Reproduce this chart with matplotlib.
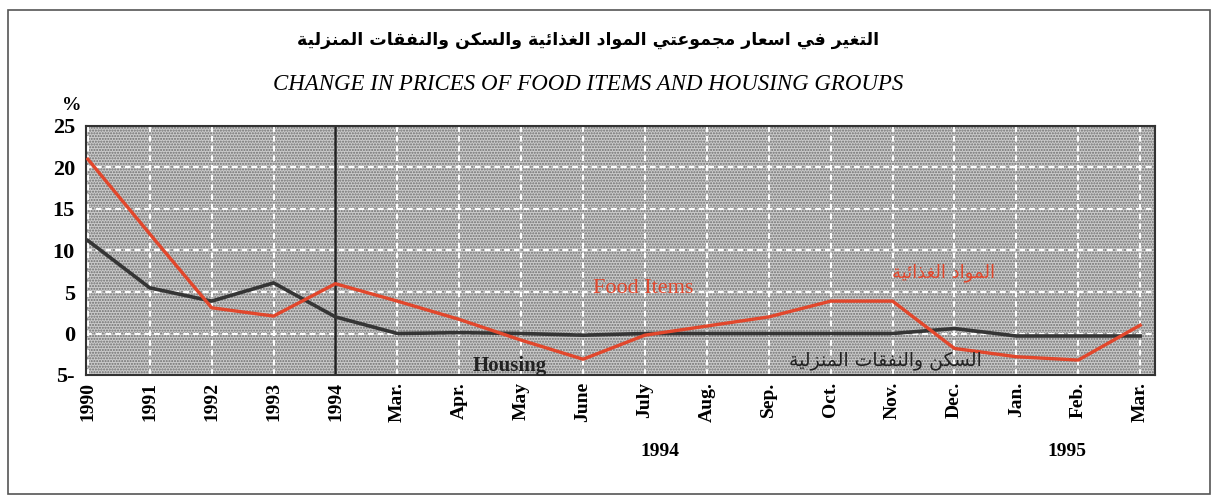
import matplotlib
matplotlib.use("Agg")
import matplotlib.pyplot as plt
from matplotlib.patches import Rectangle

# ---------------- data ----------------
categories = ["1990", "1991", "1992", "1993", "1994", "Mar.", "Apr.", "May", "June",
              "July", "Aug.", "Sep.", "Oct.", "Nov.", "Dec.", "Jan.", "Feb.", "Mar."]
food_items = [21.0, 12.0, 3.1, 2.1, 6.0, 3.9, 1.7, -0.8, -3.1, -0.2, 0.9, 2.0, 3.9, 3.9,
              -1.8, -2.8, -3.2, 1.0]
housing = [11.2, 5.5, 3.9, 6.1, 2.0, 0.0, 0.1, 0.0, -0.2, 0.0, 0.0, 0.0, 0.0, 0.0,
           0.6, -0.3, -0.3, -0.3]
y_ticks = [-5, 0, 5, 10, 15, 20, 25]
y_tick_labels = ["5-", "0", "5", "10", "15", "20", "25"]

title_ar = "التغير في اسعار مجموعتي المواد الغذائية والسكن والنفقات المنزلية"
title_en = "CHANGE IN PRICES OF FOOD ITEMS AND HOUSING GROUPS"
food_ar = "المواد الغذائية"
housing_ar = "السكن والنفقات المنزلية"

# ---------------- simple Arabic shaping ----------------
FORMS = {
    'ء': (0xFE80, None, None, None),
    'آ': (0xFE81, 0xFE82, None, None),
    'أ': (0xFE83, 0xFE84, None, None),
    'ؤ': (0xFE85, 0xFE86, None, None),
    'إ': (0xFE87, 0xFE88, None, None),
    'ئ': (0xFE89, 0xFE8A, 0xFE8B, 0xFE8C),
    'ا': (0xFE8D, 0xFE8E, None, None),
    'ب': (0xFE8F, 0xFE90, 0xFE91, 0xFE92),
    'ة': (0xFE93, 0xFE94, None, None),
    'ت': (0xFE95, 0xFE96, 0xFE97, 0xFE98),
    'ث': (0xFE99, 0xFE9A, 0xFE9B, 0xFE9C),
    'ج': (0xFE9D, 0xFE9E, 0xFE9F, 0xFEA0),
    'ح': (0xFEA1, 0xFEA2, 0xFEA3, 0xFEA4),
    'خ': (0xFEA5, 0xFEA6, 0xFEA7, 0xFEA8),
    'د': (0xFEA9, 0xFEAA, None, None),
    'ذ': (0xFEAB, 0xFEAC, None, None),
    'ر': (0xFEAD, 0xFEAE, None, None),
    'ز': (0xFEAF, 0xFEB0, None, None),
    'س': (0xFEB1, 0xFEB2, 0xFEB3, 0xFEB4),
    'ش': (0xFEB5, 0xFEB6, 0xFEB7, 0xFEB8),
    'ص': (0xFEB9, 0xFEBA, 0xFEBB, 0xFEBC),
    'ض': (0xFEBD, 0xFEBE, 0xFEBF, 0xFEC0),
    'ط': (0xFEC1, 0xFEC2, 0xFEC3, 0xFEC4),
    'ظ': (0xFEC5, 0xFEC6, 0xFEC7, 0xFEC8),
    'ع': (0xFEC9, 0xFECA, 0xFECB, 0xFECC),
    'غ': (0xFECD, 0xFECE, 0xFECF, 0xFED0),
    'ف': (0xFED1, 0xFED2, 0xFED3, 0xFED4),
    'ق': (0xFED5, 0xFED6, 0xFED7, 0xFED8),
    'ك': (0xFED9, 0xFEDA, 0xFEDB, 0xFEDC),
    'ل': (0xFEDD, 0xFEDE, 0xFEDF, 0xFEE0),
    'م': (0xFEE1, 0xFEE2, 0xFEE3, 0xFEE4),
    'ن': (0xFEE5, 0xFEE6, 0xFEE7, 0xFEE8),
    'ه': (0xFEE9, 0xFEEA, 0xFEEB, 0xFEEC),
    'و': (0xFEED, 0xFEEE, None, None),
    'ى': (0xFEEF, 0xFEF0, None, None),
    'ي': (0xFEF1, 0xFEF2, 0xFEF3, 0xFEF4),
}
LAM_ALEF = {'ا': (0xFEFB, 0xFEFC), 'أ': (0xFEF7, 0xFEF8),
            'إ': (0xFEF9, 0xFEFA), 'آ': (0xFEF5, 0xFEF6)}


def shape_arabic(text):
    chars = []
    i = 0
    while i < len(text):
        c = text[i]
        if c == 'ل' and i + 1 < len(text) and text[i + 1] in LAM_ALEF:
            chars.append(('LA', text[i + 1]))
            i += 2
        else:
            chars.append(c)
            i += 1

    def joins_left(ch):
        if isinstance(ch, tuple):
            return False
        f = FORMS.get(ch)
        return f is not None and f[2] is not None

    def joins_right(ch):
        if isinstance(ch, tuple):
            return True
        f = FORMS.get(ch)
        return f is not None and f[1] is not None

    out = []
    for k, ch in enumerate(chars):
        prev = chars[k - 1] if k > 0 else None
        nxt = chars[k + 1] if k + 1 < len(chars) else None
        con_prev = prev is not None and joins_left(prev) and joins_right(ch)
        con_next = nxt is not None and joins_left(ch) and joins_right(nxt)
        if isinstance(ch, tuple):
            iso, fin = LAM_ALEF[ch[1]]
            out.append(chr(fin if con_prev else iso))
            continue
        f = FORMS.get(ch)
        if f is None:
            out.append(ch)
            continue
        if con_prev and con_next:
            out.append(chr(f[3]))
        elif con_prev:
            out.append(chr(f[1]))
        elif con_next:
            out.append(chr(f[2]))
        else:
            out.append(chr(f[0]))
    return "".join(reversed(out))


# ---------------- figure ----------------
SERIF = "Liberation Serif"
ARABIC = "DejaVu Sans"
RED = "#e2472c"
DARK = "#353535"

fig = plt.figure(figsize=(12.16, 4.96), dpi=100)
fig.patch.set_facecolor("white")

fig.add_artist(Rectangle((8 / 1216, 2 / 496), 1202 / 1216, 484 / 496,
                         transform=fig.transFigure, fill=False,
                         edgecolor="#555555", linewidth=1.2))

ax = fig.add_axes([86 / 1216, (496 - 375) / 496, (1155 - 86) / 1216, (375 - 126) / 496])
x = list(range(len(categories)))

ax.set_facecolor("#cccccc")
ax.add_patch(Rectangle((0, 0), 1, 1, transform=ax.transAxes, facecolor="#cbcbcb",
                       hatch="......", edgecolor="#6e6e6e", linewidth=0, zorder=0.1))
ax.set_axisbelow(True)
ax.grid(True, color="white", linestyle=(0, (3, 2)), linewidth=1.4, zorder=0.5)

ax.axvline(4, color="#222222", linewidth=1.8, zorder=2)
ax.plot(x, housing, color=DARK, linewidth=2.6, zorder=3)
ax.plot(x, food_items, color=RED, linewidth=2.4, zorder=4)

ax.set_xlim(-0.03, 17.24)
ax.set_ylim(-5, 25)
ax.set_xticks(x)
ax.set_xticklabels(categories, rotation=90, fontfamily=SERIF, fontweight="bold",
                   fontsize=14)
ax.set_yticks(y_ticks)
ax.set_yticklabels(y_tick_labels, fontfamily=SERIF, fontweight="bold", fontsize=16)
ax.tick_params(axis="both", length=0)
ax.tick_params(axis="x", pad=5)
ax.tick_params(axis="y", pad=8)
for s in ax.spines.values():
    s.set_color("#333333")
    s.set_linewidth(1.5)

ax.text(8.97, 5.4, "Food Items", color=RED, fontfamily=SERIF, fontsize=16,
        ha="center", va="center", zorder=5)
ax.text(6.82, -3.9, "Housing", color="#222222", fontfamily=SERIF, fontweight="bold",
        fontsize=15, ha="center", va="center", zorder=5)
ax.text(13.82, 7.3, shape_arabic(food_ar), color=RED, fontfamily=ARABIC, fontsize=13,
        ha="center", va="center", zorder=5)
ax.text(12.88, -3.4, shape_arabic(housing_ar), color="#222222", fontfamily=ARABIC,
        fontsize=13.5, ha="center", va="center", zorder=5)

fig.text(588 / 1216, (496 - 40) / 496, shape_arabic(title_ar), fontfamily=ARABIC,
         fontsize=12.5, fontweight="bold", ha="center", va="center")
fig.text(588 / 1216, (496 - 85) / 496, title_en, fontfamily=SERIF, fontstyle="italic",
         fontsize=16.5, ha="center", va="center")
fig.text(72 / 1216, (496 - 106) / 496, "%", fontfamily=SERIF, fontweight="bold",
         fontsize=14, ha="center", va="center")
fig.text(660 / 1216, (496 - 451) / 496, "1994", fontfamily=SERIF, fontweight="bold",
         fontsize=14, ha="center", va="center")
fig.text(1067 / 1216, (496 - 451) / 496, "1995", fontfamily=SERIF, fontweight="bold",
         fontsize=14, ha="center", va="center")

fig.savefig("out.png", dpi=100)
